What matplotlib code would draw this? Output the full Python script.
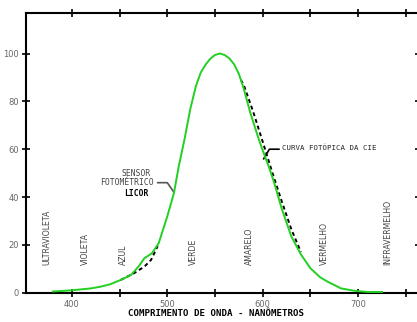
import numpy as np
import matplotlib.pyplot as plt
from matplotlib.ticker import MultipleLocator

# curva do sensor fotometrico LICOR (verde)
licor_nm = [380, 400, 420, 430, 440, 451, 462, 470, 476, 484, 491, 500, 507, 512,
            518, 524, 530, 535, 540, 545, 550, 555, 560, 565, 570, 575, 580, 587,
            596, 600, 607, 612, 620, 630, 640, 650, 660, 668, 682, 696, 710, 725]
licor_val = [0.5, 1, 1.8, 2.5, 3.5, 5.3, 7.4, 11, 14.4, 16.5, 20.7, 31.9, 41.7, 52.8,
             64, 76.6, 86.4, 92, 95.3, 97.8, 99.4, 100, 99.4, 98, 95.5, 91.5, 85.5, 75.2,
             64, 59.5, 52, 46, 35, 23.5, 16, 10.2, 6.5, 4.6, 1.8, 0.8, 0.3, 0.3]

# curva fotopica da CIE (tracejada, so onde difere)
cie_azul_nm = [451, 465, 476, 483, 490]
cie_azul_val = [5.3, 8.1, 10.9, 13.7, 19.5]
cie_verm_nm = [577, 580, 590, 600, 610, 620, 630, 640]
cie_verm_val = [89, 87, 75.7, 63.1, 50.3, 38.1, 26.5, 17.0]

faixas = ["ULTRAVIOLETA", "VIOLETA", "AZUL", "VERDE", "AMARELO", "VERMELHO", "INFRAVERMELHO"]
faixas_x = [374, 414, 454, 527, 586, 665, 731]

fig = plt.figure(figsize=(4.17, 3.22), dpi=100)
ax = fig.add_axes([0.0624, 0.091, 0.943, 0.869])

ax.plot(licor_nm, licor_val, color='#22d022', linewidth=1.4, zorder=3)
ax.plot(cie_azul_nm, cie_azul_val, color='black', linewidth=1.4, linestyle=(0, (2, 1.6)), zorder=2)
ax.plot(cie_verm_nm, cie_verm_val, color='black', linewidth=1.4, linestyle=(0, (2, 1.6)), zorder=2)

ax.set_xlim(352, 764)
ax.set_ylim(0, 117)
ax.xaxis.set_minor_locator(MultipleLocator(50))
ax.set_xticks([400, 500, 600, 700])
ax.set_yticks([0, 20, 40, 60, 80, 100])

for s in ax.spines.values():
    s.set_linewidth(1.5)
ax.tick_params(which='both', direction='inout', length=6, width=1.2,
               top=True, right=True, labelsize=6, labelcolor='#666666', pad=2)

for nome, x in zip(faixas, faixas_x):
    ax.text(x, 11.5, nome, rotation=90, ha='center', va='bottom',
            fontsize=5.6, color='#444444')

# rotulo CIE
ax.plot([601, 607, 617], [56, 60, 60], color='black', linewidth=1.2)
ax.text(620, 60.5, "CURVA FOTÓPICA DA CIE", fontsize=5.3, family='DejaVu Sans Mono',
        va='center', ha='left', color='#222222')

# rotulo sensor
ax.plot([490, 500, 507], [46, 46, 42], color='#555555', linewidth=1.2)
ax.text(467, 50, "SENSOR", fontsize=5.8, family='DejaVu Sans Mono',
        ha='center', va='center', color='#444444')
ax.text(458, 46, "FOTOMÉTRICO", fontsize=5.8, family='DejaVu Sans Mono',
        ha='center', va='center', color='#444444')
ax.text(468, 41.5, "LICOR", fontsize=5.8, family='DejaVu Sans Mono', weight='bold',
        ha='center', va='center', color='black')

fig.text(0.518, 0.012, "COMPRIMENTO DE ONDA - NANÔMETROS", fontsize=6.6,
         family='DejaVu Sans Mono', weight='bold', ha='center', va='bottom')

fig.savefig('out.png', dpi=100)
